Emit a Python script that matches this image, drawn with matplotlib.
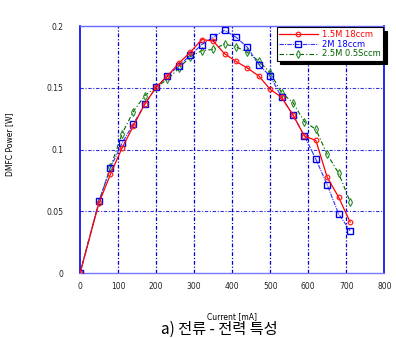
import matplotlib
matplotlib.use("Agg")
import matplotlib.pyplot as plt

plt.rcParams['font.family'] = ['DejaVu Sans']

# Current (mA) for every measured point
current = [0, 50, 80, 110, 140, 170, 200, 230, 260, 290, 320, 350,
           380, 410, 440, 470, 500, 530, 560, 590, 620, 650, 680, 710]

# DMFC power (W) for each feed condition
power_15m = [0.0, 0.057, 0.080, 0.101, 0.119, 0.1367, 0.1504, 0.1596, 0.170, 0.1787,
             0.189, 0.1879, 0.1776, 0.1714, 0.166, 0.1596, 0.1488, 0.1423, 0.128, 0.111,
             0.1075, 0.0776, 0.0615, 0.0415]
power_2m = [0.0, 0.0585, 0.0852, 0.105, 0.1207, 0.1367, 0.1504, 0.1596, 0.168, 0.1763,
            0.1849, 0.191, 0.1965, 0.191, 0.1828, 0.1685, 0.1596, 0.1423, 0.1278, 0.111,
            0.0924, 0.0714, 0.048, 0.0345]
power_25m = [0.0, 0.058, 0.0857, 0.1125, 0.1307, 0.1436, 0.1504, 0.157, 0.1658, 0.1752,
             0.180, 0.1811, 0.1854, 0.1833, 0.1787, 0.1717, 0.1622, 0.146, 0.138, 0.1226,
             0.1165, 0.0962, 0.0809, 0.058]

labels = ["1.5M 18ccm", "2M 18ccm", "2.5M 0.5Sccm"]
x_ticks = [0, 100, 200, 300, 400, 500, 600, 700, 800]
y_ticks = [0, 0.05, 0.1, 0.15, 0.2]
y_tick_labels = ["0", "0.05", "0.1", "0.15", "0.2"]

fig = plt.figure(figsize=(3.96, 3.38), dpi=100)
ax = fig.add_axes([80 / 396, 1 - 273.3 / 338, (384.3 - 80) / 396, (273.3 - 26) / 338])

ax.set_xlim(0, 800)
ax.set_ylim(0, 0.2)

# grid
for xv in x_ticks[1:-1]:
    ax.axvline(xv, color='#0000cc', lw=0.9, ls=(0, (3, 1.5, 1, 1.5)), zorder=1)
for yv in y_ticks[1:-1]:
    ax.axhline(yv, color='#3333dd', lw=0.8, ls=(0, (3, 1.5, 1, 1.5)), zorder=1)

l1, = ax.plot(current, power_15m, color='#ff0000', lw=0.9, marker='o', ms=3.3,
              mfc='none', mec='#ff2020', mew=0.9, zorder=4)
l2, = ax.plot(current, power_2m, color='#3030ff', lw=0.8, ls=(0, (4, 1, 1, 1)),
              marker='s', ms=3.7, mfc='none', mec='#0000ee', mew=1.0, zorder=3)
l3, = ax.plot(current, power_25m, color='#006400', lw=0.8, ls=(0, (4, 2, 1, 2)),
              marker='d', ms=3.6, mfc='none', mec='#2e8b2e', mew=0.8, zorder=2)

ax.set_xticks(x_ticks)
ax.set_yticks(y_ticks)
ax.set_yticklabels(y_tick_labels)
ax.tick_params(axis='x', length=0, labelsize=5.5, colors='#222222', pad=6)
ax.tick_params(axis='y', length=0, labelsize=5.5, colors='#222222', pad=12)

for side in ['left', 'right']:
    ax.spines[side].set_color('#0000ee')
    ax.spines[side].set_linewidth(1.2)
ax.spines['top'].set_color('#6666ff')
ax.spines['top'].set_linewidth(1.0)
ax.spines['bottom'].set_color('#7777ff')
ax.spines['bottom'].set_linewidth(1.0)

ax.set_xlabel("Current [mA]", fontsize=5.5)
ax.set_ylabel("DMFC Power [W]", fontsize=5.5)
ax.xaxis.set_label_coords(0.5, -0.155)
ax.yaxis.set_label_coords(-0.215, 0.523)

leg = ax.legend([l1, l2, l3], labels, loc='upper right', fontsize=6,
                frameon=True, fancybox=False, edgecolor='black',
                shadow={'color': 'black', 'alpha': 1.0, 'ox': 2.5, 'oy': -2.5},
                borderpad=0.3, labelspacing=0.1, handlelength=4.6,
                handletextpad=0.5, borderaxespad=0.15)
leg.get_frame().set_linewidth(0.8)
for txt, col in zip(leg.get_texts(), ['#ff0000', '#0000ff', '#006400']):
    txt.set_color(col)

fig.text(219 / 396, 1 - 329 / 338, "a) 전류 - 전력 특성", ha='center', va='center',
         fontsize=11, family=['Noto Sans CJK KR', 'DejaVu Sans'])

fig.savefig("out.png", dpi=100)
